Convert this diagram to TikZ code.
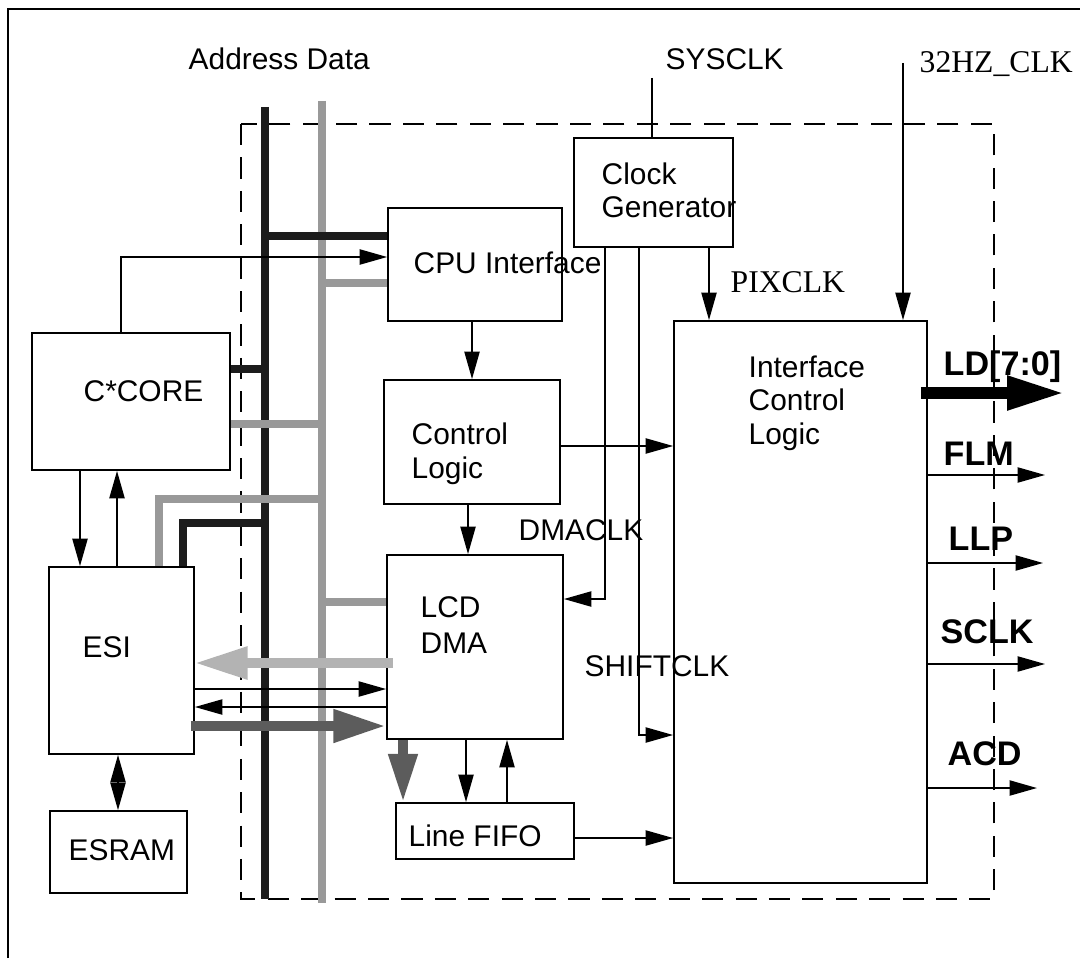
\documentclass[tikz,border=0pt]{standalone}
\usepackage{fontspec}
\setmainfont{Liberation Sans}
\newfontfamily\clkfont{Liberation Serif}
\usetikzlibrary{arrows.meta,calc,fit}
\definecolor{addrbus}{HTML}{1C1C1C}
\definecolor{databus}{HTML}{999999}
\definecolor{rdflow}{HTML}{B3B3B3}
\definecolor{wrflow}{HTML}{5C5C5C}
\newcommand{\BlockText}{\fontsize{8.5}{9.5}\selectfont}
\newcommand{\PinText}{\fontsize{9.7}{11}\selectfont\bfseries}
\newcommand{\ClkText}{\fontsize{9}{10}\selectfont\clkfont}

\begin{document}
\begin{tikzpicture}[
  x=0.01cm, y=-0.01cm,                       % one unit = one pixel of the sketch
  every node/.style={font=\BlockText},
  block/.style={draw, line width=0.5pt, inner sep=0pt},
  lbl/.style={anchor=base west, inner sep=0pt},  % multi-line: base = last line
  pin/.style={lbl, font=\PinText},
  clk/.style={lbl, font=\ClkText},
  sig/.style={line width=0.5pt, -{Triangle[length=7.8pt,width=4.3pt]}},
  bisig/.style={line width=0.5pt, {Triangle[length=7.8pt,width=4.3pt]}-{Triangle[length=7.8pt,width=4.3pt]}},
  abus/.style={line width=2.3pt, draw=addrbus},
  dbus/.style={line width=2.5pt, draw=databus},
  fatarrow/.style={line width=2.8pt, -{Triangle[length=15pt,width=8.8pt]}},
  dashbox/.style={line width=0.45pt, dash pattern=on 6pt off 3.5pt}
]
\useasboundingbox (0,0) rectangle (1080,958);

% ---------- Frames ----------
\draw[line width=0.5pt] (8,958) -- (8,9) -- (1080,9);
\draw[dashbox] (241,124) rectangle (994,899);

% ---------- Blocks ----------
\node[block, fit={(32,333) (230,470)}]  (core)   {};
\node[block, fit={(49,567) (194,754)}]  (esi)    {};
\node[block, fit={(50,811) (187,893)}]  (esram)  {};
\node[block, fit={(574,138) (733,247)}] (clkgen) {};
\node[block, fit={(388,208) (562,321)}] (cpu)    {};
\node[block, fit={(384,380) (560,504)}] (ctrl)   {};
\node[block, fit={(387,555) (563,739)}] (dma)    {};
\node[block, fit={(396,803) (574,859)}] (fifo)   {};
\node[block, fit={(674,321) (927,883)}] (icl)    {};

% ---------- Block texts ----------
\node[lbl] (coreT)  at (83,401)  {C*CORE};
\node[lbl] (esiT)   at (82,657)  {ESI};
\node[lbl] (esramT) at (68,860)  {ESRAM};
\node[lbl, align=left] (clkgenT) at (601,218) {Clock\\Generator};
\node[lbl] (cpuT)   at (413,273) {CPU Interface};
\node[lbl, align=left] (ctrlT) at (411,478) {Control\\Logic};
\node[lbl, align=left] (dmaT)  at (420,653) {LCD\\[0.5pt]DMA};
\node[lbl] (fifoT)  at (408,846) {Line FIFO};
\node[lbl, align=left] (iclT)  at (748,444) {Interface\\Control\\Logic};

% ---------- Buses ----------
\coordinate (addr) at (265,107);
\coordinate (data) at (322,101);
\node[lbl] (busT) at (188,70) {Address Data};
\draw[abus] (addr) -- (addr |- 0,899);
\draw[dbus] (data) -- (data |- 0,903);

\draw[abus] (addr |- 0,236) -- (cpu.west |- 0,236);
\draw[abus] (core.east |- 0,369) -- (addr |- 0,369);
\draw[abus] (addr |- 0,523) -| (esi.north -| 183,0);

\draw[dbus] (data |- 0,283) -- (cpu.west |- 0,283);
\draw[dbus] (core.east |- 0,424) -- (data |- 0,424);
\draw[dbus] (data |- 0,499) -| (esi.north -| 159,0);
\draw[dbus] (data |- 0,602) -- (dma.west |- 0,602);

% ---------- Clocks ----------
\coordinate (sysclk) at (652,78);
\coordinate (hzclk)  at (903,63);
\node[lbl] (sysclkT) at (665,70)  {SYSCLK};
\node[clk] (hzT)     at (919,73)  {32HZ\_CLK};
\node[clk] (pixT)    at (730,292) {PIXCLK};
\node[lbl] (dmaclkT) at (518,540) {DMACLK};
\node[lbl] (shiftT)  at (584,676) {SHIFTCLK};

\draw[line width=0.5pt] (sysclk) -- (sysclk |- clkgen.north);
\draw[sig] (hzclk) -- (hzclk |- icl.north);
\draw[sig] (clkgen.south -| 709,0) -- (icl.north -| 709,0);
\draw[sig] (clkgen.south -| 605,0) |- (dma.east |- 0,599);
\draw[sig] (clkgen.south -| 639,0) |- (icl.west |- 0,735);

% ---------- Control signals ----------
\draw[sig] (core.north -| 121,0) |- (cpu.west |- 0,257);
\draw[sig] (cpu.south -| 472,0) -- (ctrl.north -| 472,0);
\draw[sig] (ctrl.south -| 468,0) -- (dma.north -| 468,0);
\draw[sig] (ctrl.east |- 0,446) -- (icl.west |- 0,446);
\draw[sig] (dma.south -| 466,0) -- (fifo.north -| 466,0);
\draw[sig] (fifo.north -| 507,0) -- (dma.south -| 507,0);
\draw[sig] (fifo.east |- 0,838) -- (icl.west |- 0,838);
\draw[sig] (core.south -| 80,0) -- (esi.north -| 80,0);
\draw[sig] (esi.north -| 117,0) -- (core.south -| 117,0);
\draw[bisig] (esi.south -| 118,0) -- (esram.north -| 118,0);
\draw[sig] (esi.east |- 0,689) -- (dma.west |- 0,689);
\draw[sig] (dma.west |- 0,707) -- (esi.east |- 0,707);

% ---------- DMA data paths ----------
\draw[fatarrow, draw=rdflow, line width=2.6pt] ($(dma.west |- 0,663)+(7,0)$) -- (esi.east |- 0,663);
\draw[fatarrow, draw=wrflow, line width=3pt] ($(esi.east |- 0,726)+(-4,0)$) -- (dma.west |- 0,726);
\draw[fatarrow, draw=wrflow, line width=2.6pt, -{Triangle[length=13.7pt,width=7.8pt]}]
  (dma.south -| 403,0) -- (fifo.north -| 403,0);

% ---------- LCD pins ----------
\coordinate (ldout)   at (1065,393);
\coordinate (flmout)  at (1045,475);
\coordinate (llpout)  at (1043,563);
\coordinate (sclkout) at (1045,664);
\coordinate (acdout)  at (1037,788);
\node[pin] (ldT)   at (943,375) {LD[7:0]};
\node[pin] (flmT)  at (943,465) {FLM};
\node[pin] (llpT)  at (948,550) {LLP};
\node[pin] (sclkT) at (940,643) {SCLK};
\node[pin] (acdT)  at (947,765) {ACD};

\draw[fatarrow, draw=black, line width=3.4pt, -{Triangle[length=16.5pt,width=9pt]}]
  ($(icl.east |- ldout)+(-7,0)$) -- (ldout);
\draw[sig] (icl.east |- flmout) -- (flmout);
\draw[sig] (icl.east |- llpout) -- (llpout);
\draw[sig] (icl.east |- sclkout) -- (sclkout);
\draw[sig] (icl.east |- acdout) -- (acdout);

\end{tikzpicture}
\end{document}
